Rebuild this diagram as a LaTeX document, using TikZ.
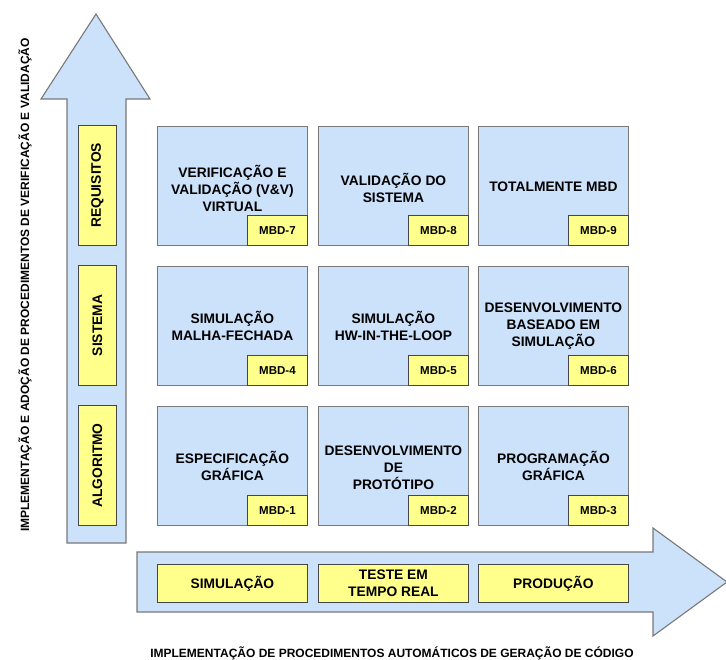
\documentclass[tikz,border=0pt]{standalone}
\usepackage{fontspec}
\setmainfont{Liberation Sans}
\definecolor{paleblue}{RGB}{204,226,250}
\definecolor{paleyellow}{RGB}{255,255,140}
\definecolor{edgegray}{RGB}{120,120,120}
\definecolor{darkedge}{RGB}{70,70,70}
\begin{document}
\begin{tikzpicture}[x=1pt,y=-1pt,
  axis/.style={fill=paleblue, draw=edgegray, line width=1.1pt, line join=miter},
  cell/.style={rectangle, fill=paleblue, draw=edgegray, line width=0.9pt,
    minimum width=150pt, minimum height=119pt, inner sep=0pt, anchor=north west},
  celltext/.style={align=center, font=\fontsize{13.8}{17}\selectfont\bfseries, inner sep=0pt},
  tag/.style={rectangle, fill=paleyellow, draw=darkedge, line width=0.9pt,
    minimum width=60pt, minimum height=30pt, inner sep=0pt, anchor=south east,
    font=\fontsize{11.5}{13}\selectfont\bfseries},
  vlabel/.style={rectangle, fill=paleyellow, draw=darkedge, line width=0.9pt,
    minimum width=38pt, minimum height=120pt, inner sep=0pt, anchor=north west},
  vtext/.style={rotate=90, font=\fontsize{13.8}{17}\selectfont\bfseries, inner sep=0pt},
  hlabel/.style={rectangle, fill=paleyellow, draw=darkedge, line width=0.9pt,
    minimum width=150pt, minimum height=38pt, inner sep=0pt, anchor=north west,
    align=center, font=\fontsize{13.8}{17}\selectfont\bfseries},
  caption/.style={inner sep=0pt, font=\fontsize{12}{14}\selectfont\bfseries}]
\useasboundingbox (0,0) rectangle (726,660);

% vertical axis arrow
\draw[axis] (96,14) -- (150,99) -- (126,99) -- (126,543) -- (67,543) -- (67,99) -- (41,99) -- cycle;
% horizontal axis arrow
\draw[axis] (137,552) -- (653,552) -- (653,528) -- (727,582) -- (653,636) -- (653,612) -- (137,612) -- cycle;

% labels on the vertical arrow
\node[vlabel] (req) at (78,125) {};
\node[vtext] at (req.center) {REQUISITOS};
\node[vlabel] (sis) at (78,265) {};
\node[vtext] at (sis.center) {SISTEMA};
\node[vlabel] (alg) at (78,405) {};
\node[vtext] at (alg.center) {ALGORITMO};

% labels on the horizontal arrow
\node[hlabel] (sim) at (157,564) {SIMULAÇÃO};
\node[hlabel] (tr) at (318,564) {TESTE EM\\TEMPO REAL};
\node[hlabel] (prod) at (478,564) {PRODUÇÃO};

% grid of MBD levels
\node[cell] (c7) at (157,126) {};
\node[cell] (c8) at (318,126) {};
\node[cell] (c9) at (478,126) {};
\node[cell] (c4) at (157,266) {};
\node[cell] (c5) at (318,266) {};
\node[cell] (c6) at (478,266) {};
\node[cell] (c1) at (157,406) {};
\node[cell] (c2) at (318,406) {};
\node[cell] (c3) at (478,406) {};

\node[celltext] (t7) at ([yshift=-2pt]c7.center) {VERIFICAÇÃO E\\VALIDAÇÃO (V\&V)\\VIRTUAL};
\node[celltext] (t8) at ([yshift=-2pt]c8.center) {VALIDAÇÃO DO\\SISTEMA};
\node[celltext] (t9) at ([yshift=-1pt]c9.center) {TOTALMENTE MBD};
\node[celltext] (t4) at (c4.center) {SIMULAÇÃO\\MALHA-FECHADA};
\node[celltext] (t5) at (c5.center) {SIMULAÇÃO\\HW-IN-THE-LOOP};
\node[celltext] (t6) at (c6.center) {DESENVOLVIMENTO\\BASEADO EM\\SIMULAÇÃO};
\node[celltext] (t1) at (c1.center) {ESPECIFICAÇÃO\\GRÁFICA};
\node[celltext] (t2) at ([yshift=-2pt]c2.center) {DESENVOLVIMENTO\\DE\\PROTÓTIPO};
\node[celltext] (t3) at (c3.center) {PROGRAMAÇÃO\\GRÁFICA};

\node[tag] (m7) at (c7.south east) {MBD-7};
\node[tag] (m8) at (c8.south east) {MBD-8};
\node[tag] (m9) at (c9.south east) {MBD-9};
\node[tag] (m4) at (c4.south east) {MBD-4};
\node[tag] (m5) at (c5.south east) {MBD-5};
\node[tag] (m6) at (c6.south east) {MBD-6};
\node[tag] (m1) at (c1.south east) {MBD-1};
\node[tag] (m2) at (c2.south east) {MBD-2};
\node[tag] (m3) at (c3.south east) {MBD-3};

% axis captions
\node[caption, rotate=90] (ycap) at (25,285) {IMPLEMENTAÇÃO E ADOÇÃO DE PROCEDIMENTOS DE VERIFICAÇÃO E VALIDAÇÃO};
\node[caption, anchor=base] (xcap) at (392,657.5) {IMPLEMENTAÇÃO DE PROCEDIMENTOS AUTOMÁTICOS DE GERAÇÃO DE CÓDIGO};
\end{tikzpicture}
\end{document}
